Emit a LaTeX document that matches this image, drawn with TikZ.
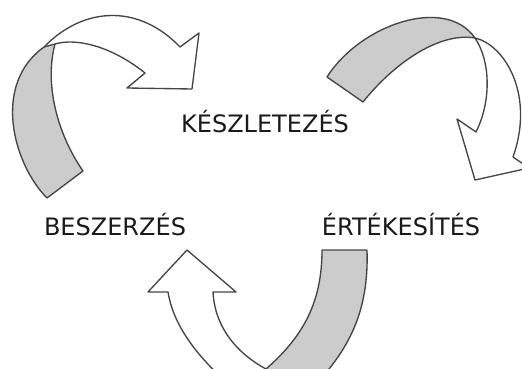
\documentclass[tikz,border=0pt]{standalone}
\usepackage{fontspec}
\setmainfont{DejaVu Sans}
\usepackage{xcolor}
\usepackage{tikz}
\usetikzlibrary{positioning}
\definecolor{ribbonline}{HTML}{454545}
\definecolor{ribbongray}{HTML}{CCCCCC}
\definecolor{labeltext}{HTML}{1A1A1A}

\begin{document}
\begin{tikzpicture}[
    x=1pt, y=-1pt,
    ribbon/.style={draw=ribbonline, line width=1.35pt, line join=round},
    backside/.style={ribbon, fill=ribbongray},
    stagelabel/.style={anchor=base, text=labeltext, inner sep=0pt, font=\fontsize{24}{28}\selectfont}
]
\useasboundingbox (0,0) rectangle (522,369);
\clip (0,0) rectangle (522,369);

% top left arrow
\draw[backside] (44,47) .. controls (-9,85) and (14,165) .. (47,198) -- (83,171)
    .. controls (58,135) and (44,85) .. (55,44) -- cycle;
\draw[ribbon] (44,47) .. controls (85,5) and (140,5) .. (180,47) -- (199,33) -- (192,89) -- (127,88) -- (145,73)
    .. controls (110,45) and (75,38) .. (55,44);

% top right arrow
\draw[backside] (327,77) .. controls (360,25) and (445,-5) .. (475,38)
    .. controls (440,32) and (395,62) .. (363,102) -- cycle;
\draw[ribbon] (475,38) .. controls (490,60) and (492,100) .. (476,132) -- (457,119) -- (475,180) -- (529,168) -- (513,157)
    .. controls (535,95) and (505,45) .. (475,38);

% bottom arrow
\draw[backside] (322,250) -- (367,250) .. controls (369,310) and (350,350) .. (310,390) -- (266,369)
    .. controls (305,335) and (322,300) .. (322,250) -- cycle;
\draw[ribbon] (266,369) .. controls (240,355) and (215,330) .. (213,292) -- (236,292) -- (187,250) -- (148,292) -- (168,292)
    .. controls (175,335) and (210,368) .. (240,395);

\node[stagelabel] (keszletezes) at (265,132) {KÉSZLETEZÉS};
\node[stagelabel] (beszerzes) at (115,235) {BESZERZÉS};
\node[stagelabel] (ertekesites) at (401,235) {ÉRTÉKESÍTÉS};
\end{tikzpicture}
\end{document}
